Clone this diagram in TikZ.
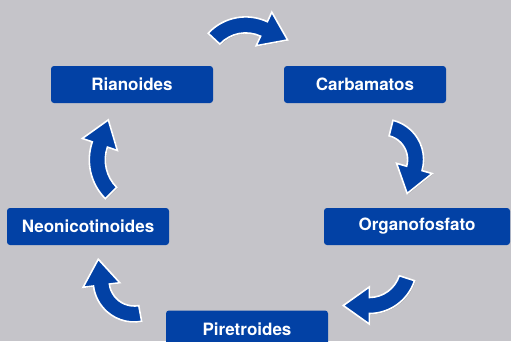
\documentclass[tikz,border=0pt]{standalone}
\usepackage{fontspec}
\setmainfont{TeX Gyre Heros}
\usetikzlibrary{calc,shadows}
\definecolor{bg}{RGB}{197,196,201}
\definecolor{boxblue}{RGB}{2,65,165}
\tikzset{
  lbl/.style={fill=boxblue, text=white, rounded corners=3pt, minimum width=162pt,
    minimum height=37pt, inner sep=0pt, font=\fontsize{17}{20}\selectfont\bfseries},
  carrowstyle/.style={fill=boxblue, draw=white, line width=1.6pt, line join=miter,
    drop shadow={shadow xshift=0.8pt, shadow yshift=-0.8pt, opacity=0.35, fill=black!70}}
}
% curved arrow: centre x, centre y, radius, start angle, end angle
\newcommand\cycarrow[5]{%
  \path[carrowstyle]
    ($(#1,#2)+(#4:{#3+8})$) arc[start angle=#4, end angle=#5, radius={#3+8}]
    -- ($(#1,#2)+(#5:{#3+18.5})$)
    -- ($(#1,#2)+(#5:#3)+({#5+90}:26)$)
    -- ($(#1,#2)+(#5:{#3-18.5})$)
    -- ($(#1,#2)+(#5:{#3-8})$) arc[start angle=#5, end angle=#4, radius={#3-8}]
    -- cycle;}
\begin{document}
\begin{tikzpicture}[x=1pt,y=-1pt]
  \fill[bg] (0,0) rectangle (511,341);
  \useasboundingbox (0,0) rectangle (511,341);
  \node[lbl] (ria) at (132,84.5) {Rianoides};
  \node[lbl] (car) at (365,84.5) {Carbamatos};
  \node[lbl] (neo) at (88,226.5) {Neonicotinoides};
  \node[lbl, minimum width=186pt] (org) at (417,226.5) {Organofosfato};
  \node[lbl] (pir) at (247,329) {Piretroides};
  \cycarrow{245.7}{68.2}{43.3}{-137}{-65}
  \cycarrow{383.2}{159.5}{32.4}{-76}{16}
  \cycarrow{369.3}{266}{39.5}{18}{90}
  \cycarrow{134.2}{281}{33}{79.5}{173}
  \cycarrow{144.4}{159.8}{47.1}{135.2}{199}
\end{tikzpicture}
\end{document}
